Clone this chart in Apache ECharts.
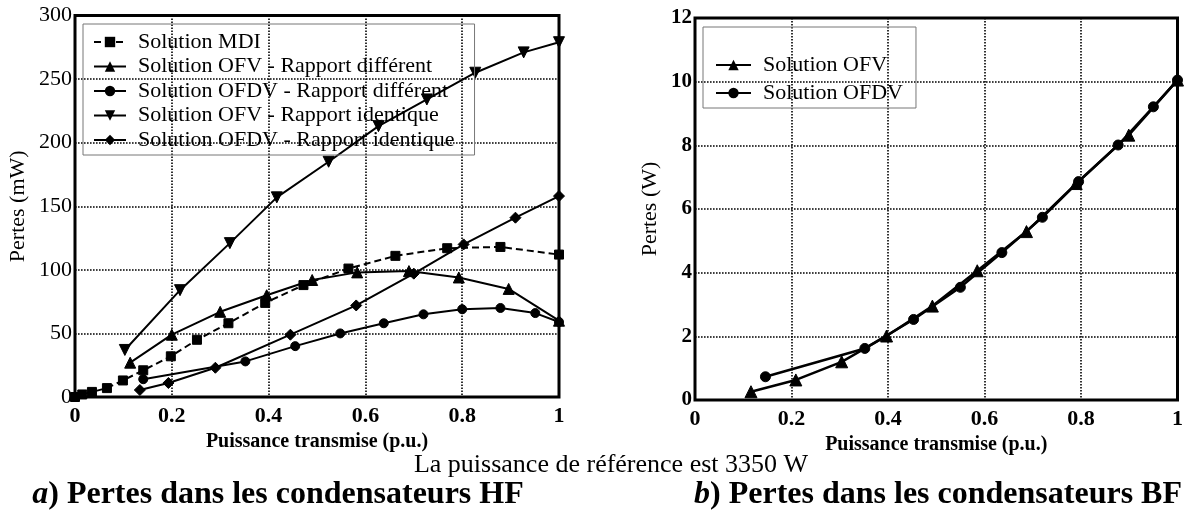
<!DOCTYPE html>
<html>
<head>
<meta charset="utf-8">
<script src="https://cdn.jsdelivr.net/npm/echarts@6/dist/echarts.min.js"></script>
<style>html,body{margin:0;padding:0;background:#fff}#c{width:1186px;height:514px}</style>
</head>
<body>
<div id="c"></div>
<script>
// ---- data (x: Puissance transmise p.u., y: Pertes) ----
const xTicks = ['0', '0.2', '0.4', '0.6', '0.8', '1'];
const namesHF = ['Solution MDI', 'Solution OFV - Rapport différent', 'Solution OFDV - Rapport différent', 'Solution OFV - Rapport identique', 'Solution OFDV - Rapport identique'];
const namesBF = ['Solution OFV', 'Solution OFDV'];
const mdi = [[0,0],[0.015,2],[0.035,4],[0.066,7],[0.099,13],[0.141,21],[0.198,32],[0.252,45],[0.317,58],[0.393,74],[0.472,88],[0.565,101],[0.662,111],[0.769,117],[0.879,118],[1.0,112]];
const ofvDiff = [[0.114,27],[0.2,49],[0.3,67],[0.396,80],[0.49,92],[0.583,98],[0.69,99],[0.793,94],[0.896,85],[1.0,60]];
const ofdvDiff = [[0.141,14],[0.352,28],[0.455,40],[0.548,50],[0.638,58],[0.72,65],[0.8,69],[0.879,70],[0.951,66],[1.0,59]];
const ofvIdent = [[0.103,37],[0.217,84],[0.32,121],[0.417,157],[0.524,185],[0.627,213],[0.727,234],[0.827,255],[0.927,271],[1.0,279]];
const ofdvIdent = [[0.134,5.5],[0.193,11],[0.29,23],[0.445,49],[0.581,72],[0.7,97],[0.803,120],[0.91,141],[1.0,158]];
const ofvBF = [[0.116,0.26],[0.209,0.63],[0.304,1.2],[0.397,2.01],[0.492,2.95],[0.585,4.06],[0.687,5.29],[0.79,6.8],[0.899,8.32],[1.0,10.05]];
const ofdvBF = [[0.146,0.73],[0.352,1.62],[0.453,2.53],[0.55,3.54],[0.636,4.63],[0.72,5.74],[0.795,6.86],[0.877,8.01],[0.95,9.21],[1.0,10.05]];

const FONT = 'Liberation Serif';
const chart = echarts.init(document.getElementById('c'), null, {renderer: 'canvas'});

function xAxisCfg(gi) {
  return {
    gridIndex: gi, type: 'value', min: 0, max: 1, interval: 0.2,
    name: 'Puissance transmise (p.u.)', nameLocation: 'middle', nameGap: 31,
    nameTextStyle: {fontFamily: FONT, fontSize: 20, fontWeight: 'bold', color: '#000'},
    axisLine: {show: false}, axisTick: {show: false},
    axisLabel: {fontFamily: FONT, fontSize: 22, fontWeight: 'bold', color: '#000', margin: 8,
      formatter: v => xTicks[Math.round(v / 0.2)]},
    splitLine: {show: true, lineStyle: {color: '#000', width: 1.6, type: [1.6, 1.4]}}
  };
}
function yAxisCfg(gi, max, interval, name, gap, bold, fs) {
  return {
    gridIndex: gi, type: 'value', min: 0, max: max, interval: interval,
    name: name, nameLocation: 'middle', nameGap: gap,
    nameTextStyle: {fontFamily: FONT, fontSize: 22, color: '#000'},
    axisLine: {show: false}, axisTick: {show: false},
    axisLabel: {fontFamily: FONT, fontSize: fs, fontWeight: bold ? 'bold' : 'normal', color: '#000', margin: 3},
    splitLine: {show: true, lineStyle: {color: '#000', width: 1.6, type: [1.6, 1.4]}}
  };
}
function line(name, data, symbol, size, gi, opts) {
  return Object.assign({
    name: name, type: 'line', xAxisIndex: gi, yAxisIndex: gi, data: data,
    symbol: symbol, symbolSize: size, showAllSymbol: true,
    lineStyle: {color: '#000', width: 2},
    itemStyle: {color: '#000', borderColor: '#000'},
    z: 3
  }, opts || {});
}

const legendText = {fontFamily: FONT, fontSize: 22, color: '#000', lineHeight: 22, padding: [0, 0, 0, 7]};

chart.setOption({
  animation: false,
  backgroundColor: '#fff',
  grid: [
    {left: 75, top: 15.5, width: 484, height: 381.5, show: true, borderColor: '#000', borderWidth: 3, backgroundColor: 'transparent'},
    {left: 695, top: 18, width: 487, height: 382, show: true, borderColor: '#000', borderWidth: 3, backgroundColor: 'transparent'}
  ],
  xAxis: [xAxisCfg(0), xAxisCfg(1)],
  yAxis: [
    yAxisCfg(0, 300, 50, 'Pertes (mW)', 46, false, 22),
    yAxisCfg(1, 12, 2, 'Pertes (W)', 34, true, 21)
  ],
  legend: [
    {data: namesHF, left: 83, top: 24, orient: 'vertical', itemWidth: 32, itemHeight: 13, itemGap: 2.5,
     padding: [7, 20, 4, 10], borderColor: '#777', borderWidth: 1, backgroundColor: 'transparent',
     textStyle: legendText, selectedMode: false},
    {data: namesBF, left: 703, top: 27, orient: 'vertical', itemWidth: 35, itemHeight: 13, itemGap: 6,
     padding: [27, 13, 4, 12], borderColor: '#777', borderWidth: 1, backgroundColor: 'transparent',
     textStyle: legendText, selectedMode: false}
  ],
  series: [
    line(namesHF[0], mdi, 'rect', 9, 0, {lineStyle: {color: '#000', width: 2, type: [7, 4]}}),
    line(namesHF[1], ofvDiff, 'triangle', 11, 0),
    line(namesHF[2], ofdvDiff, 'circle', 9, 0),
    line(namesHF[3], ofvIdent, 'triangle', 11, 0, {symbolRotate: 180}),
    line(namesHF[4], ofdvIdent, 'diamond', 11, 0),
    line(namesBF[0], ofvBF, 'triangle', 12, 1, {lineStyle: {color: '#000', width: 2.5}}),
    line(namesBF[1], ofdvBF, 'circle', 10, 1, {lineStyle: {color: '#000', width: 2.5}})
  ],
  graphic: [
    {type: 'text', x: 611, y: 465, style: {text: 'La puissance de référence est 3350 W', fontFamily: FONT, fontSize: 26, fill: '#000', textAlign: 'center', textVerticalAlign: 'middle'}},
    {type: 'text', x: 278, y: 495, style: {text: '{i|a}) Pertes dans les condensateurs HF', fontFamily: FONT, fontSize: 32, fontWeight: 'bold', fill: '#000', textAlign: 'center', textVerticalAlign: 'middle',
      rich: {i: {fontFamily: FONT, fontSize: 32, fontWeight: 'bold', fontStyle: 'italic', fill: '#000'}}}},
    {type: 'text', x: 938, y: 495, style: {text: '{i|b}) Pertes dans les condensateurs BF', fontFamily: FONT, fontSize: 32, fontWeight: 'bold', fill: '#000', textAlign: 'center', textVerticalAlign: 'middle',
      rich: {i: {fontFamily: FONT, fontSize: 32, fontWeight: 'bold', fontStyle: 'italic', fill: '#000'}}}}
  ]
});
</script>
</body>
</html>
